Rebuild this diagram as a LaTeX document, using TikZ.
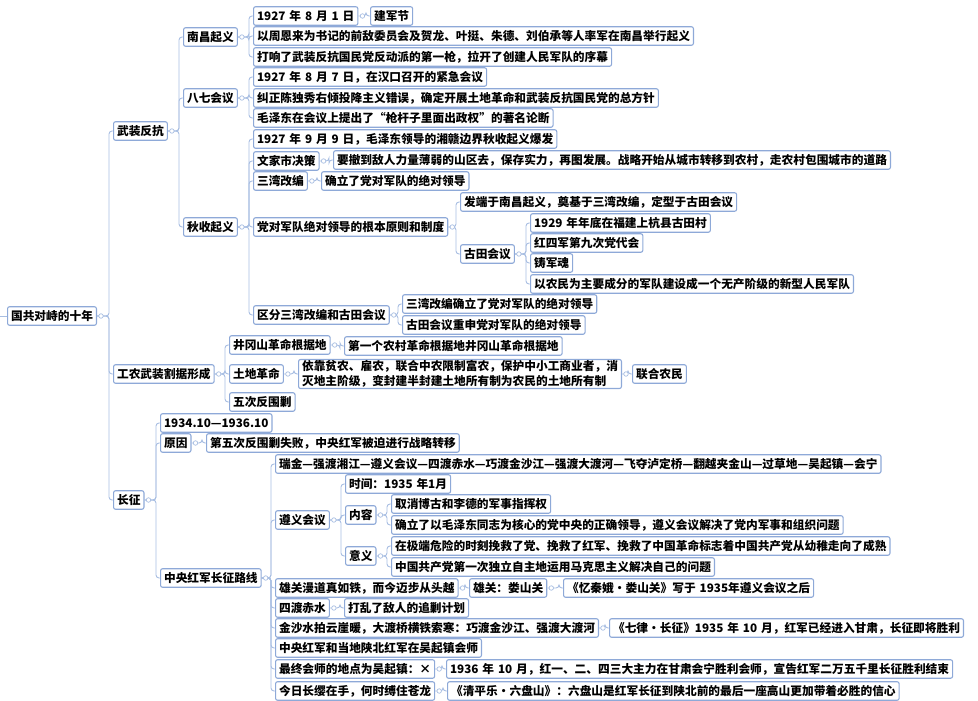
\documentclass[tikz,border=0pt]{standalone}
\usepackage{fontspec}
\setmainfont{Noto Sans CJK SC}
\usetikzlibrary{calc}
\definecolor{boxline}{HTML}{8EA9D8}
\definecolor{wire}{HTML}{A8BEE2}
\tikzset{
  mapnode/.style = {draw=boxline, line width=1.1pt, rounded corners=2pt,
    fill=white, anchor=west, inner xsep=3.5pt, inner ysep=1pt,
    minimum height=18.5pt, text=black,
    font=\fontsize{11.7}{15}\selectfont\bfseries},
  link/.style = {draw=wire, line width=0.9pt, rounded corners=3pt},
  knot/.style = {circle, draw=wire, fill=white, line width=0.7pt,
    inner sep=0pt, minimum size=4.5pt}
}

\begin{document}
\begin{tikzpicture}[x=1pt, y=-1pt]
\useasboundingbox (0,0) rectangle (978,701);
\coordinate (stub) at (0,316);
\node [mapnode] (root) at (7,316) {国共对峙的十年};

% level 1
\node [mapnode] (wz) at (113,131) {武装反抗};
\node [mapnode] (gn) at (113,374) {工农武装割据形成};
\node [mapnode] (cz) at (113,500) {长征};

% 武装反抗
\node [mapnode] (nc) at (183,37) {南昌起义};
\node [mapnode] (bq) at (183,98) {八七会议};
\node [mapnode] (qs) at (183,227) {秋收起义};

\node [mapnode] (nc1) at (253,16) {1927\,\,年\,\,8\,\,月\,\,1\,\,日};
\node [mapnode] (nc1a) at (370,16) {建军节};
\node [mapnode] (nc2) at (253,36) {以周恩来为书记的前敌委员会及贺龙、叶挺、朱德、刘伯承等人率军在南昌举行起义};
\node [mapnode] (nc3) at (253,57) {打响了武装反抗国民党反动派的第一枪，拉开了创建人民军队的序幕};

\node [mapnode] (bq1) at (253,77) {1927\,\,年\,\,8\,\,月\,\,7\,\,日，在汉口召开的紧急会议};
\node [mapnode] (bq2) at (253,98) {纠正陈独秀右倾投降主义错误，确定开展土地革命和武装反抗国民党的总方针};
\node [mapnode] (bq3) at (253,118) {毛泽东在会议上提出了“枪杆子里面出政权”的著名论断};

\node [mapnode] (qs1) at (253,139) {1927\,\,年\,\,9\,\,月\,\,9\,\,日，毛泽东领导的湘赣边界秋收起义爆发};
\node [mapnode] (qs2) at (253,161) {文家市决策};
\node [mapnode] (qs2a) at (333,160) {要撤到敌人力量薄弱的山区去，保存实力，再图发展。战略开始从城市转移到农村，走农村包围城市的道路};
\node [mapnode] (qs3) at (253,181) {三湾改编};
\node [mapnode] (qs3a) at (321,181) {确立了党对军队的绝对领导};
\node [mapnode] (qs4) at (253,227) {党对军队绝对领导的根本原则和制度};
\node [mapnode] (qs4a) at (460,202) {发端于南昌起义，奠基于三湾改编，定型于古田会议};
\node [mapnode] (qs4b) at (460,254) {古田会议};
\node [mapnode] (gt1) at (530,223) {1929\,\,年年底在福建上杭县古田村};
\node [mapnode] (gt2) at (530,243) {红四军第九次党代会};
\node [mapnode] (gt3) at (530,263) {铸军魂};
\node [mapnode] (gt4) at (530,284) {以农民为主要成分的军队建设成一个无产阶级的新型人民军队};
\node [mapnode] (qs5) at (253,315) {区分三湾改编和古田会议};
\node [mapnode] (qs5a) at (402,304) {三湾改编确立了党对军队的绝对领导};
\node [mapnode] (qs5b) at (402,325) {古田会议重申党对军队的绝对领导};

% 工农武装割据形成
\node [mapnode] (gn1) at (229,345) {井冈山革命根据地};
\node [mapnode] (gn1a) at (344,346) {第一个农村革命根据地井冈山革命根据地};
\node [mapnode] (gn2) at (229,374) {土地革命};
\node [mapnode, align=left] (gn2a) at (298,374) {依靠贫农、雇农，联合中农限制富农，保护中小工商业者，消\\灭地主阶级，变封建半封建土地所有制为农民的土地所有制};
\node [mapnode] (gn2b) at (632,374) {联合农民};
\node [mapnode] (gn3) at (229,402) {五次反围剿};

% 长征
\node [mapnode] (cz1) at (160,423) {1934.10—1936.10};
\node [mapnode] (cz2) at (160,443) {原因};
\node [mapnode] (cz2a) at (206,443) {第五次反围剿失败，中央红军被迫进行战略转移};
\node [mapnode] (cz3) at (160,578) {中央红军长征路线};

\node [mapnode] (lx1) at (275,464) {瑞金—强渡湘江—遵义会议—四渡赤水—巧渡金沙江—强渡大渡河—飞夺泸定桥—翻越夹金山—过草地—吴起镇—会宁};
\node [mapnode] (zy) at (275,520) {遵义会议};
\node [mapnode] (zy1) at (345,484) {时间：1935\,\,年1月};
\node [mapnode] (zy2) at (345,515) {内容};
\node [mapnode] (zy2a) at (391,504) {取消博古和李德的军事指挥权};
\node [mapnode] (zy2b) at (391,525) {确立了以毛泽东同志为核心的党中央的正确领导，遵义会议解决了党内军事和组织问题};
\node [mapnode] (zy3) at (345,556) {意义};
\node [mapnode] (zy3a) at (391,546) {在极端危险的时刻挽救了党、挽救了红军、挽救了中国革命标志着中国共产党从幼稚走向了成熟};
\node [mapnode] (zy3b) at (391,567) {中国共产党第一次独立自主地运用马克思主义解决自己的问题};
\node [mapnode] (lx2) at (275,588) {雄关漫道真如铁，而今迈步从头越};
\node [mapnode] (lx2a) at (469,588) {雄关：娄山关};
\node [mapnode] (lx2b) at (563,588) {《忆秦娥•娄山关》写于\,\,1935年遵义会议之后};
\node [mapnode] (lx3) at (275,608) {四渡赤水};
\node [mapnode] (lx3a) at (344,608) {打乱了敌人的追剿计划};
\node [mapnode] (lx4) at (275,628) {金沙水拍云崖暖，大渡桥横铁索寒：巧渡金沙江、强渡大渡河};
\node [mapnode] (lx4a) at (609,628) {《七律•长征》1935\,\,年\,\,10\,\,月，红军已经进入甘肃，长征即将胜利};
\node [mapnode] (lx5) at (275,648) {中央红军和当地陕北红军在吴起镇会师};
\node [mapnode] (lx6) at (275,669) {最终会师的地点为吴起镇：×};
\node [mapnode] (lx6a) at (446,669) {1936\,\,年\,\,10\,\,月，红一、二、四三大主力在甘肃会宁胜利会师，宣告红军二万五千里长征胜利结束};
\node [mapnode] (lx7) at (275,691) {今日长缨在手，何时缚住苍龙};
\node [mapnode] (lx7a) at (447,691) {《清平乐•六盘山》：六盘山是红军长征到陕北前的最后一座高山更加带着必胜的信心};

% connectors
\begin{scope}[on background layer/.try]
\draw [link] (stub) -- (root.west);
\foreach \p/\c in {root/wz, root/gn, root/cz,
    wz/nc, wz/bq, wz/qs,
    nc/nc1, nc/nc2, nc/nc3, nc1/nc1a,
    bq/bq1, bq/bq2, bq/bq3,
    qs/qs1, qs/qs2, qs/qs3, qs/qs4, qs/qs5,
    qs2/qs2a, qs3/qs3a, qs4/qs4a, qs4/qs4b,
    qs4b/gt1, qs4b/gt2, qs4b/gt3, qs4b/gt4,
    qs5/qs5a, qs5/qs5b,
    gn/gn1, gn/gn2, gn/gn3, gn1/gn1a, gn2/gn2a, gn2a/gn2b,
    cz/cz1, cz/cz2, cz/cz3, cz2/cz2a,
    cz3/lx1, cz3/zy, cz3/lx2, cz3/lx3, cz3/lx4, cz3/lx5, cz3/lx6, cz3/lx7,
    zy/zy1, zy/zy2, zy/zy3, zy2/zy2a, zy2/zy2b, zy3/zy3a, zy3/zy3b,
    lx2/lx2a, lx2a/lx2b, lx3/lx3a, lx4/lx4a, lx6/lx6a, lx7/lx7a}
  \draw [link] (\p.east) -| ($(\c.west)+(-4,0)$) -- (\c.west);
\end{scope}

% knots on the parents
\foreach \p in {root, wz, gn, cz, nc, bq, qs, nc1, qs2, qs3, qs4, qs4b, qs5,
    gn1, gn2, gn2a, cz2, cz3, zy, zy2, zy3, lx2, lx2a, lx3, lx4, lx6, lx7}
  \node [knot] at ($(\p.east)+(4,0)$) {};
\end{tikzpicture}
\end{document}
